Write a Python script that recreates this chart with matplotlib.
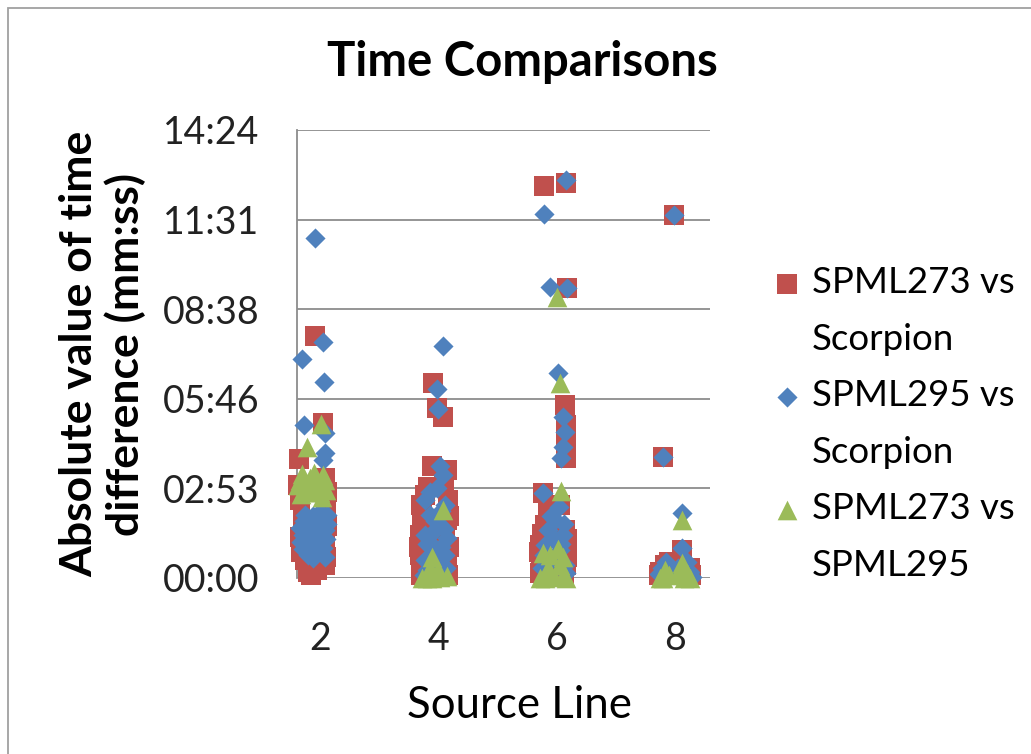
import matplotlib
matplotlib.use("Agg")
import matplotlib.pyplot as plt
from matplotlib.lines import Line2D
from matplotlib.patches import Rectangle
from matplotlib.ticker import FixedLocator, FuncFormatter

plt.rcParams['font.family'] = ['Lato', 'DejaVu Sans']

# datos: linea fuente (con dispersion) y tiempo en m:ss
rojo_x = [1.92, 2.05, 1.65, 2.08, 1.66, 2.10, 1.71, 1.88, 1.75, 2.08, 1.75, 2.08, 1.80, 1.63, 2.12,
          1.66, 1.68, 1.85, 2.10, 2.12, 1.95,
          3.91, 3.97, 4.08, 3.89, 4.15, 3.77, 4.16, 3.72, 4.15, 3.69, 4.11, 3.69, 4.15, 3.72, 4.03,
          3.70, 4.18, 3.68, 4.18, 3.70, 4.17, 3.82, 4.10,
          5.78, 6.15, 6.17, 6.14, 6.15, 6.15, 6.15, 5.76, 5.86, 6.05, 5.80, 6.14, 5.71, 6.17, 5.73, 6.15, 5.80,
          5.70, 5.72, 6.18, 6.18, 5.75, 6.12,
          7.98, 7.80, 8.12, 7.83, 8.25, 7.75, 7.72, 8.27, 8.00, 7.90]
rojo_t = ["7:47", "4:59", "3:49", "3:13", "2:30", "2:21", "1:52", "1:33", "1:13", "1:04", "0:35", "0:25", "0:12", "3:00", "2:45",
          "1:20", "0:50", "0:05", "0:40", "1:40", "0:15",
          "6:16", "5:28", "5:11", "3:36", "3:28", "2:40", "2:30", "2:01", "1:52", "1:23", "1:13", "0:44", "0:35", "0:15", "0:10",
          "2:20", "2:00", "1:00", "1:00", "0:05", "0:05", "2:55", "2:58",
          "12:36", "12:42", "9:19", "5:34", "4:55", "4:17", "3:51", "2:44", "2:11", "2:21", "1:42", "1:33", "1:04", "0:58", "0:35", "0:25", "0:12",
          "0:50", "0:10", "0:40", "1:15", "1:25", "0:05",
          "11:40", "3:53", "0:54", "0:25", "0:19", "0:12", "0:05", "0:05", "0:20", "0:30"]

azul_x = [1.92, 2.05, 1.70, 2.07, 1.73, 2.08, 2.08, 2.05, 1.75, 2.00, 2.12, 1.83, 2.08, 1.66, 1.71, 1.97, 1.78, 2.05, 1.88,
          1.72, 1.80, 1.88, 1.96, 2.04, 2.12, 1.76, 1.92, 2.00, 1.68, 2.10, 1.84, 1.95, 2.02, 1.80, 1.90,
          1.71, 2.08, 1.74, 2.06,
          4.08, 3.97, 3.99, 4.03, 4.08, 3.97, 3.77, 4.11, 3.86, 4.03, 3.77, 4.15, 3.89, 4.11, 3.77, 3.99, 3.81,
          3.85, 4.05, 3.95, 3.80, 4.05, 3.92, 4.12, 3.75, 4.05, 3.92, 4.10,
          6.15, 5.78, 5.88, 6.18, 6.02, 6.10, 6.14, 6.10, 6.08, 5.76, 6.03, 5.97, 5.85, 6.10, 5.80, 6.05, 5.88, 6.14, 5.75,
          5.90, 6.12, 5.95, 5.78, 6.00, 6.15, 5.85, 6.08,
          7.98, 7.80, 8.12, 8.12, 7.78, 8.25, 7.95, 7.85, 8.05, 8.20, 7.72, 8.28]
azul_t = ["10:56", "7:35", "7:02", "6:18", "4:55", "4:40", "4:01", "3:48", "2:01", "2:07", "2:01", "1:42", "1:33", "1:36", "1:23", "1:13", "0:54", "0:58", "0:39",
          "1:50", "1:55", "2:00", "1:48", "1:52", "1:45", "1:28", "1:25", "1:30", "1:10", "1:15", "1:05", "0:58", "1:08", "0:45", "0:48",
          "0:55", "0:40", "1:40", "1:58",
          "7:27", "6:04", "5:26", "3:36", "3:19", "2:54", "2:30", "2:21", "2:01", "1:42", "1:23", "1:17", "1:04", "0:44", "0:35", "0:25", "0:15",
          "2:45", "2:10", "1:50", "1:05", "1:00", "0:50", "0:20", "0:05", "0:08", "1:30", "1:35",
          "12:48", "11:42", "9:21", "9:19", "6:35", "5:11", "4:42", "4:13", "3:51", "2:44", "2:17", "1:52", "1:33", "1:23", "1:04", "0:54", "0:35", "0:25", "0:19",
          "2:00", "1:45", "1:15", "0:45", "0:30", "0:10", "0:08", "1:05",
          "11:40", "3:53", "2:05", "0:58", "0:19", "0:12", "0:15", "0:30", "0:20", "0:30", "0:08", "0:02"]

verde_x = [2.02, 1.78, 1.66, 1.83, 1.97, 2.08, 1.75, 1.92, 2.03, 1.63,
           1.70, 1.90, 2.05, 1.80, 2.00, 1.68, 2.10, 1.87,
           4.08, 3.89, 3.80, 4.03, 4.15, 3.72, 3.90, 3.85, 4.00,
           6.00, 6.05, 6.08, 5.76, 6.02, 5.80, 6.10, 5.88, 6.10, 5.72, 5.95, 6.15, 5.85, 6.05,
           8.12, 7.83, 8.12, 7.75, 8.25, 7.90, 8.05, 8.20, 7.80, 8.15]
verde_t = ["4:57", "4:13", "3:09", "3:13", "3:03", "3:09", "2:54", "2:50", "2:36", "2:59",
           "3:20", "3:22", "3:18", "2:45", "2:45", "2:42", "2:50", "3:00",
           "2:11", "0:40", "0:00", "0:02", "0:03", "0:00", "0:00", "0:20", "0:15",
           "9:02", "6:16", "2:48", "0:48", "0:55", "0:00", "0:03", "0:45", "0:40", "0:00", "0:02", "0:00", "0:20", "0:25",
           "1:52", "0:15", "0:29", "0:00", "0:00", "0:05", "0:10", "0:10", "0:00", "0:00"]

nombres = ["SPML273 vs\nScorpion", "SPML295 vs\nScorpion", "SPML273 vs\nSPML295"]
ticks_x = [2, 4, 6, 8]
ticks_y = [0, 172.8, 345.6, 518.4, 691.2, 864]


def a_segundos(lista):
    res = []
    for t in lista:
        m, s = t.split(":")
        res.append(int(m) * 60 + int(s))
    return res


def mmss(v, pos=None):
    v = int(round(v))
    return "%02d:%02d" % (v // 60, v % 60)


fig = plt.figure(figsize=(10.31, 7.54), dpi=100)
ax = fig.add_axes([297 / 1031, 1 - 578 / 754, 413 / 1031, 448 / 754])

puntos = []
puntos.append(ax.scatter(rojo_x, a_segundos(rojo_t), marker="s", s=190, color="#C0504D",
                         linewidths=0, clip_on=False, zorder=3))
puntos.append(ax.scatter(azul_x, a_segundos(azul_t), marker="D", s=105, color="#4F81BD",
                         linewidths=0, clip_on=False, zorder=4))
puntos.append(ax.scatter(verde_x, a_segundos(verde_t), marker="^", s=200, color="#9BBB59",
                         linewidths=0, clip_on=False, zorder=5))

ax.set_xlim(1.61, 8.59)
ax.set_ylim(0, 864)
ax.xaxis.set_major_locator(FixedLocator(ticks_x))
ax.yaxis.set_major_locator(FixedLocator(ticks_y))
ax.yaxis.set_major_formatter(FuncFormatter(mmss))
ax.tick_params(length=0, labelsize=27, colors="#222222")
ax.tick_params(axis="x", pad=31)
ax.tick_params(axis="y", pad=27)
ax.grid(axis="y", color="#8C8C8C", linewidth=1.3)
ax.set_axisbelow(True)
for lado in ["top", "right", "bottom"]:
    ax.spines[lado].set_visible(False)
ax.spines["left"].set_color("#8C8C8C")
ax.spines["left"].set_linewidth(1.3)

ax.set_ylabel("Absolute value of time\ndifference (mm:ss)", fontsize=32,
              fontweight="bold", linespacing=1.15, labelpad=12)
fig.text(519 / 1031, 1 - 705 / 754, "Source Line", fontsize=31.5,
         ha="center", va="center")
fig.text(522 / 1031, 1 - 62 / 754, "Time Comparisons", fontsize=34,
         fontweight="bold", ha="center", va="center")

# leyenda: el marcador va con la primera linea de cada texto
vacio = Line2D([], [], linestyle="none")
handles = []
etiquetas = []
for p, n in zip(puntos, nombres):
    a, b = n.split("\n")
    handles += [p, vacio]
    etiquetas += [a, b]
ax.legend(handles, etiquetas, loc="center left",
          bbox_to_anchor=(769 / 1031, 1 - 424 / 754),
          bbox_transform=fig.transFigure, frameon=False, fontsize=26.4,
          labelspacing=0.64, handletextpad=0.17, handlelength=1.0,
          borderpad=0, borderaxespad=0)

fig.patches.append(Rectangle((8 / 1031, -0.1), 1.2, 1 - 8 / 754 + 0.1,
                             transform=fig.transFigure, fill=False,
                             edgecolor="#A0A0A0", linewidth=1.3))

fig.savefig("out.png", dpi=100)
